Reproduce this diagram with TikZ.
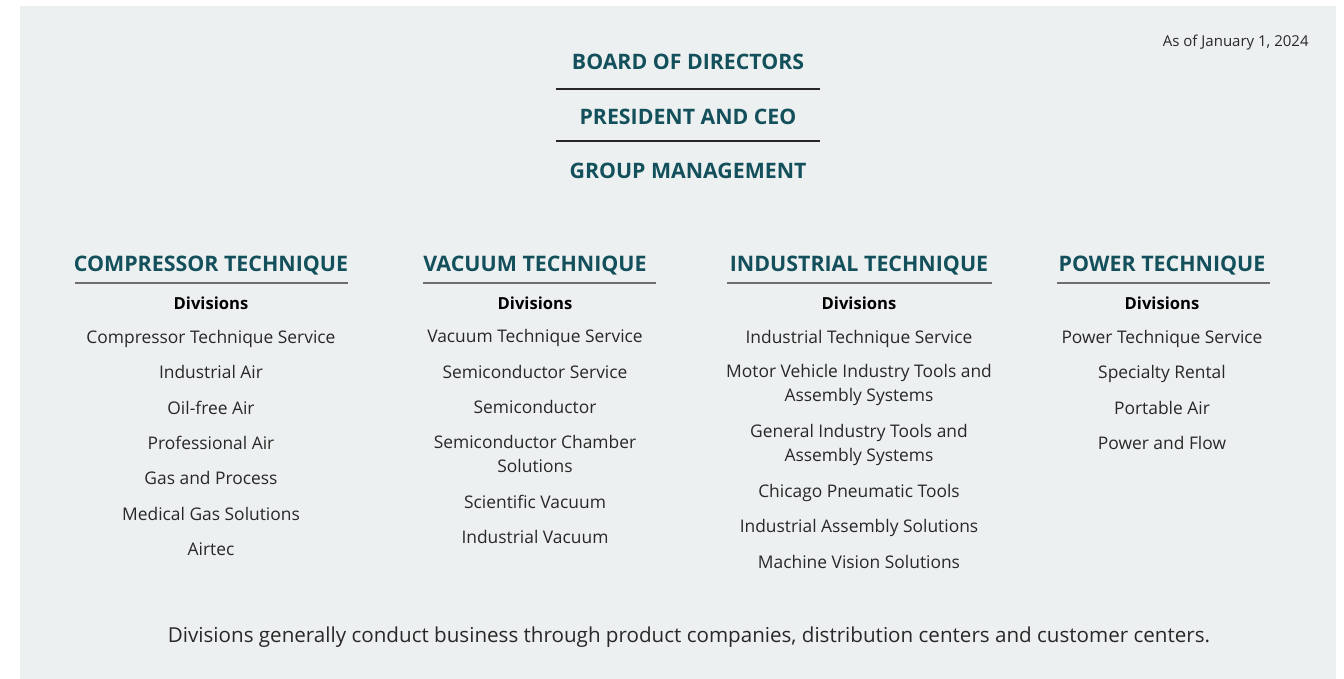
\documentclass[tikz,border=0pt]{standalone}
\usepackage{fontspec}
\setmainfont{Open Sans}
\usepackage{tikz}

\definecolor{headteal}{RGB}{19,80,91}
\definecolor{bodygrey}{RGB}{40,40,40}
\definecolor{panelgrey}{RGB}{236,240,241}
\definecolor{rulegrey}{RGB}{110,110,110}

\tikzset{
	level/.style={inner sep=0pt, text=headteal, font=\bfseries\fontsize{10.65}{12}\selectfont},
	unit/.style={inner sep=0pt, text=headteal, font=\bfseries\fontsize{10.7}{12}\selectfont},
	divhead/.style={inner sep=0pt, font=\bfseries\fontsize{8.3}{10}\selectfont},
	division/.style={inner sep=0pt, text=bodygrey, align=center, font=\fontsize{8.7}{12}\selectfont,
		execute at begin node=\strut, execute at end node=\strut},
	toprule/.style={draw=black!85, line width=0.6pt},
	unitrule/.style={draw=rulegrey, line width=0.8pt},
}

\begin{document}
\begin{tikzpicture}[x=0.5pt, y=-0.5pt]
	\useasboundingbox (0,0) rectangle (1344,679);
	\fill[panelgrey] (20,6) rectangle (1336,679);

	\node[inner sep=0pt, anchor=east, text=bodygrey, font=\fontsize{7.5}{9}\selectfont] (date) at (1309,43) {As of January 1, 2024};

	% top of the group
	\node[level] (board) at (688,62) {BOARD OF DIRECTORS};
	\node[level] (ceo) at (688,117) {PRESIDENT AND CEO};
	\node[level] (mgmt) at (688,171) {GROUP MANAGEMENT};
	\coordinate (r1a) at (556,89);
	\coordinate (r1b) at (820,89);
	\coordinate (r2a) at (556,141);
	\coordinate (r2b) at (820,141);
	\path[toprule] (r1a) edge (r1b);
	\path[toprule] (r2a) edge (r2b);

	% business areas
	\node[unit] (ct) at (211,266) {COMPRESSOR TECHNIQUE};
	\node[unit] (vt) at (535,266) {VACUUM TECHNIQUE};
	\node[unit] (it) at (859,266) {INDUSTRIAL TECHNIQUE};
	\node[unit] (pt) at (1162,266) {POWER TECHNIQUE};
	\coordinate (cta) at (75,283);
	\coordinate (ctb) at (348,283);
	\coordinate (vta) at (423,283);
	\coordinate (vtb) at (656,283);
	\coordinate (ita) at (727,283);
	\coordinate (itb) at (992,283);
	\coordinate (pta) at (1057,283);
	\coordinate (ptb) at (1270,283);
	\path[unitrule] (cta) edge (ctb);
	\path[unitrule] (vta) edge (vtb);
	\path[unitrule] (ita) edge (itb);
	\path[unitrule] (pta) edge (ptb);

	\node[divhead] (ctd) at (211,303) {Divisions};
	\node[divhead] (vtd) at (535,303) {Divisions};
	\node[divhead] (itd) at (859,303) {Divisions};
	\node[divhead] (ptd) at (1162,303) {Divisions};

	% compressor technique
	\node[division] (ct1) at (211,339) {Compressor Technique Service};
	\node[division] (ct2) at (211,374) {Industrial Air};
	\node[division] (ct3) at (211,410) {Oil-free Air};
	\node[division] (ct4) at (211,445) {Professional Air};
	\node[division] (ct5) at (211,480) {Gas and Process};
	\node[division] (ct6) at (211,516) {Medical Gas Solutions};
	\node[division] (ct7) at (211,551) {Airtec};

	% vacuum technique
	\node[division] (vt1) at (535,338) {Vacuum Technique Service};
	\node[division] (vt2) at (535,374) {Semiconductor Service};
	\node[division] (vt3) at (535,409) {Semiconductor};
	\node[division] (vt4) at (535,457) {Semiconductor Chamber\\Solutions};
	\node[division] (vt5) at (535,504) {Scientific Vacuum};
	\node[division] (vt6) at (535,539) {Industrial Vacuum};

	% industrial technique
	\node[division] (it1) at (859,339) {Industrial Technique Service};
	\node[division] (it2) at (859,386) {Motor Vehicle Industry Tools and\\Assembly Systems};
	\node[division] (it3) at (859,446) {General Industry Tools and\\Assembly Systems};
	\node[division] (it4) at (859,493) {Chicago Pneumatic Tools};
	\node[division] (it5) at (859,528) {Industrial Assembly Solutions};
	\node[division] (it6) at (859,564) {Machine Vision Solutions};

	% power technique
	\node[division] (pt1) at (1162,339) {Power Technique Service};
	\node[division] (pt2) at (1162,374) {Specialty Rental};
	\node[division] (pt3) at (1162,410) {Portable Air};
	\node[division] (pt4) at (1162,445) {Power and Flow};

	\node[inner sep=0pt, text=bodygrey, font=\fontsize{10.3}{12}\selectfont] (note) at (689,637) {Divisions generally conduct business through product companies, distribution centers and customer centers.};
\end{tikzpicture}
\end{document}
